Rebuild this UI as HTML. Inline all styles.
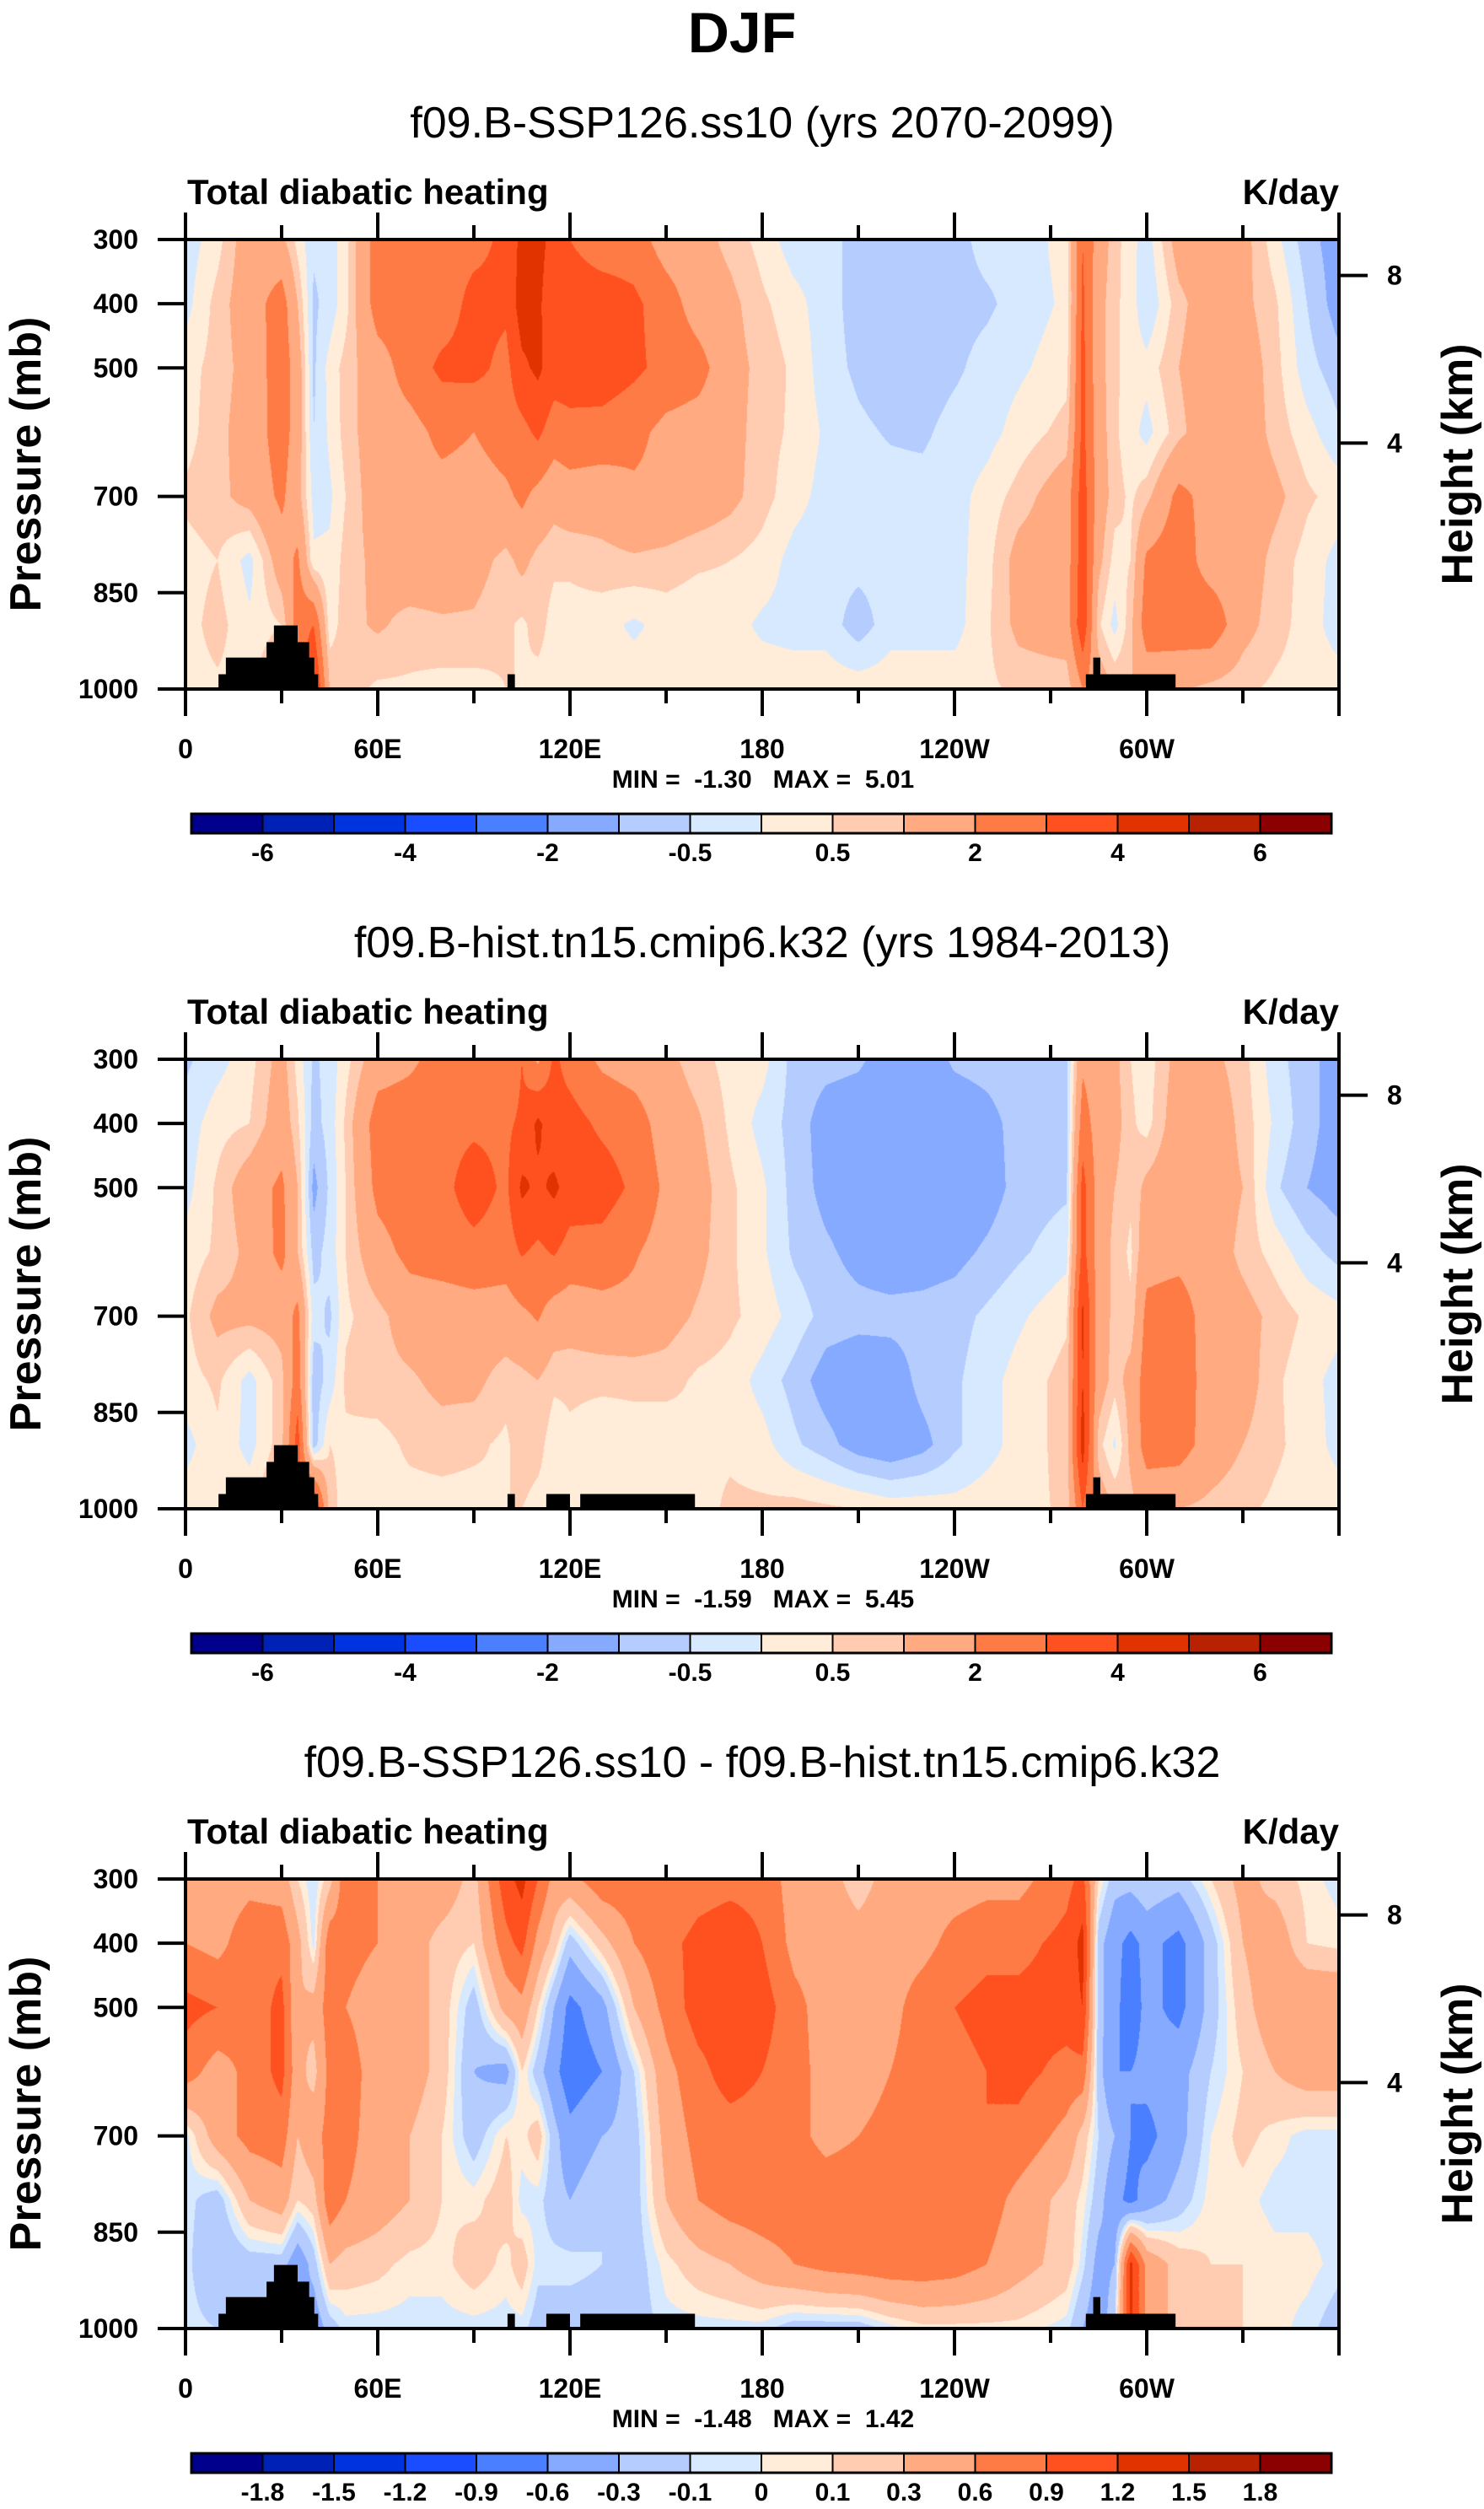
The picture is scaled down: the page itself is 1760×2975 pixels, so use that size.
<!DOCTYPE html>
<html><head><meta charset="utf-8">
<style>
html,body{margin:0;padding:0;background:#fff;}
body{width:1760px;height:2975px;position:relative;overflow:hidden;font-family:"Liberation Sans",Arial,sans-serif;}
canvas{position:absolute;}
#ov{position:absolute;left:0;top:0;}
.pre{white-space:pre;}
</style></head>
<body>
<canvas id="c0" width="1368" height="533" style="left:220px;top:284px"></canvas>
<canvas id="c1" width="1368" height="533" style="left:220px;top:1256px"></canvas>
<canvas id="c2" width="1368" height="533" style="left:220px;top:2228px"></canvas>
<svg id="ov" width="1760" height="2975" xmlns="http://www.w3.org/2000/svg">
<text x="880" y="62" text-anchor="middle" font-size="68" font-weight="bold" font-family="Liberation Sans, sans-serif">DJF</text>
</svg>
<script>
// ---- data ----
const LONS=[0,10,20,30,35,40,45,50,60,70,80,90,100,105,110,115,120,130,140,150,160,170,180,190,200,210,220,230,240,250,260,275,280,285,290,295,300,310,320,330,340,350,360];
const PLEV=[300,400,500,600,700,800,900,1000];
const field1=[
[-0.3,0.3,1.5,1.2,0.3,-0.4,-0.3,0.3,2.5,2.5,2.6,2.7,3.2,4.3,4.5,3.5,3.0,2.5,2.5,1.5,1.3,0.8,0.3,-0.3,-0.3,-0.7,-0.8,-0.8,-0.7,-0.3,-0.3,0.2,3.0,1.5,0.7,0.2,-0.3,1.4,1.5,1.3,0.2,-0.8,-1.3],
[-0.2,0.7,1.5,2.5,1.0,-0.6,-0.3,0.3,2.5,2.5,2.5,3.3,3.2,4.5,4.3,3.0,3.5,3.5,3.2,2.5,1.5,1.2,0.6,0.2,-0.3,-0.7,-0.8,-0.8,-0.7,-0.6,-0.3,0.1,3.2,1.3,0.6,0.3,-0.5,0.8,1.5,1.2,0.6,-0.5,-1.3],
[0.3,0.7,1.3,2.6,1.5,-0.6,0.2,0.7,1.5,2.5,3.2,3.3,2.7,3.8,4.2,3.5,3.5,3.6,3.2,2.7,2.4,1.3,0.8,0.4,-0.3,-0.6,-0.8,-0.8,-0.6,-0.3,-0.1,0.3,3.3,1.3,0.6,0.3,0.2,1.0,1.6,1.5,0.7,-0.3,-0.8],
[0.3,0.8,1.4,2.5,1.5,-0.5,0.1,0.7,1.5,1.6,2.3,2.0,2.5,2.7,3.2,2.5,2.7,2.6,2.3,1.7,1.5,1.3,0.7,0.4,-0.1,-0.4,-0.55,-0.6,-0.3,-0.2,0.2,0.7,3.3,1.4,0.6,0.2,-0.2,0.8,1.6,1.5,0.8,0.2,-0.4],
[0.6,0.8,1.3,2.2,1.3,-0.2,-0.1,0.5,1.5,1.5,1.6,1.5,1.8,2.2,1.7,1.3,1.5,1.4,1.8,1.7,1.5,1.2,0.7,0.2,-0.2,-0.3,-0.3,-0.3,-0.2,0.2,0.7,1.5,3.5,1.5,0.7,0.4,0.8,2.3,1.6,1.5,1.2,0.6,0.3],
[0.3,0.5,-0.2,1.5,2.2,0.1,0.1,0.7,1.2,1.5,1.5,1.3,0.8,1.2,0.8,0.6,0.6,0.8,0.9,0.8,0.6,0.5,0.3,-0.2,-0.3,-0.3,-0.3,-0.3,-0.2,0.3,1.3,1.5,3.6,1.2,0.3,0.5,2.2,2.6,1.5,1.5,0.8,0.3,-0.2],
[0.3,0.7,0.1,0.5,2.5,3.0,0.2,0.8,1.1,0.8,0.9,0.9,0.6,0.4,0.7,0.3,0.3,0.2,-0.1,0.2,0.1,0.2,-0.1,-0.2,-0.2,-0.8,-0.2,-0.2,-0.2,0.4,1.2,1.5,3.8,0.6,-0.2,0.8,2.6,2.6,2.7,1.3,0.7,0.3,-0.3],
[0.3,0.4,0.3,1.5,2.0,4.5,1.0,0.7,0.4,0.4,0.3,0.3,0.5,0.5,0.3,0.3,0.3,0.3,0.3,0.3,0.3,0.3,0.3,0.3,0.3,0.3,0.3,0.3,0.3,0.4,0.6,0.6,2.0,1.5,1.0,1.0,1.2,1.1,0.8,0.6,0.4,0.3,0.3]];
const field2=[
[-0.6,-0.2,0.3,1.3,0.3,-0.6,-0.3,0.3,1.5,1.8,2.4,2.5,2.0,3.0,1.8,3.2,2.6,1.8,1.5,1.2,0.7,0.3,0.2,-0.7,-0.8,-0.9,-1.3,-1.4,-0.9,-0.8,-0.7,-0.6,1.8,1.4,1.2,0.5,0.2,1.3,1.2,0.7,-0.3,-0.8,-1.3],
[-0.3,0.3,0.5,1.5,0.6,-0.7,-0.3,0.6,2.5,2.6,2.7,2.8,2.8,3.2,4.2,3.4,3.4,2.8,2.5,1.5,1.1,0.4,-0.2,-0.7,-1.3,-1.4,-1.5,-1.5,-1.4,-1.2,-0.8,-0.6,2.5,1.5,1.3,0.6,0.3,1.5,1.6,0.8,-0.1,-0.8,-1.3],
[-0.2,0.6,1.5,2.2,1.0,-1.2,-0.4,0.5,2.3,2.6,2.7,3.5,2.8,4.2,3.8,4.2,3.6,3.5,2.8,1.8,1.3,0.6,0.1,-0.7,-1.2,-1.4,-1.5,-1.5,-1.5,-1.3,-0.8,-0.6,3.4,1.5,1.0,0.6,1.2,1.6,1.5,1.0,-0.4,-1.0,-1.3],
[0.2,0.6,1.2,2.3,1.0,-0.7,-0.3,0.5,1.6,2.3,2.5,2.7,2.5,3.1,2.8,3.1,2.6,2.6,2.1,1.6,1.2,0.6,0.1,-0.6,-0.9,-1.2,-1.4,-1.3,-1.2,-0.9,-0.6,-0.2,3.4,1.5,0.8,0.4,1.6,1.7,1.5,0.8,0.3,-0.3,-0.7],
[0.4,1.2,1.2,1.3,2.3,-0.3,-0.6,0.4,0.8,1.4,1.4,1.5,1.5,1.8,2.1,1.5,1.4,1.6,1.7,1.3,0.9,0.6,0.3,-0.2,-0.7,-0.8,-0.8,-0.8,-0.7,-0.4,-0.1,0.4,4.2,1.5,0.8,0.6,2.3,2.5,1.5,1.3,0.8,0.4,0.2],
[0.3,0.6,-0.2,0.8,2.5,-0.8,-0.3,0.6,0.8,0.9,1.2,1.2,0.7,0.8,1.0,0.6,0.6,0.6,0.6,0.7,0.4,0.3,-0.2,-0.7,-1.3,-1.5,-1.4,-0.8,-0.6,-0.2,0.2,0.7,4.0,1.5,0.7,1.3,2.5,2.6,1.5,1.4,0.6,0.2,-0.2],
[-0.2,0.4,-0.2,0.8,3.5,-0.8,0.5,0.4,0.3,0.6,0.7,0.6,0.4,0.8,0.7,0.2,0.4,0.2,0.3,0.1,0.4,0.4,0.2,-0.4,-0.8,-1.3,-1.5,-1.2,-0.6,-0.2,0.2,0.7,4.5,0.7,-0.1,1.2,2.5,2.5,1.5,1.0,0.6,0.3,-0.2],
[0.3,0.4,0.4,1.3,2.5,4.5,0.7,0.3,0.3,0.3,0.3,0.3,0.5,0.5,0.3,0.3,0.3,0.3,0.3,0.3,0.3,0.6,0.6,0.7,0.6,0.5,0.3,0.3,0.2,0.3,0.3,0.6,3.0,1.5,1.0,0.8,1.2,1.0,0.8,0.6,0.4,0.3,0.3]];
const field3=[
[0.4,0.4,0.5,0.45,0.1,-0.1,0.2,0.8,0.6,0.5,0.5,0.2,1.1,1.3,0.9,0.5,0.5,0.8,0.8,0.6,0.75,0.8,0.8,0.45,0.4,0.2,0.4,0.45,0.45,0.5,0.5,0.8,1.0,0.1,-0.2,-0.2,-0.1,-0.2,0.1,0.4,0.2,0.05,-0.05],
[0.6,0.5,0.8,0.8,0.4,-0.05,0.8,0.7,0.6,0.45,0.2,0.1,0.8,1.0,0.5,0.2,-0.2,0.2,0.6,0.8,1.0,1.1,0.9,0.5,0.45,0.4,0.45,0.5,0.7,0.8,0.8,1.0,1.3,-0.2,-0.5,-0.7,-0.5,-0.7,-0.2,0.3,0.5,0.1,0.05],
[1.0,0.9,0.7,1.0,0.3,0.4,0.75,0.6,0.45,0.45,0.2,-0.2,0.4,0.5,0.1,-0.3,-0.7,-0.4,0.3,0.7,1.05,1.1,1.05,0.7,0.45,0.45,0.5,0.75,0.9,1.0,1.0,1.05,1.2,-0.2,-0.5,-0.8,-0.5,-0.7,-0.2,0.2,0.5,0.6,0.6],
[0.75,0.45,0.7,1.0,0.4,0.2,0.7,0.75,0.45,0.45,0.2,-0.3,-0.4,0.1,-0.2,-0.5,-0.8,-0.6,-0.1,0.5,0.8,1.05,0.9,0.7,0.5,0.45,0.6,0.75,0.8,0.9,1.0,0.8,0.8,-0.2,-0.6,-0.6,-0.5,-0.4,-0.1,0.1,0.3,0.45,0.45],
[-0.05,0.45,0.7,0.75,0.3,0.5,0.7,0.7,0.45,0.3,0.1,-0.2,0.1,0.05,0.2,-0.2,-0.5,-0.3,-0.2,0.4,0.7,0.75,0.75,0.7,0.5,0.6,0.7,0.75,0.8,0.9,0.8,0.5,0.2,-0.1,-0.3,-0.6,-0.7,-0.4,0.0,0.15,0.05,-0.05,-0.05],
[-0.05,-0.2,0.3,0.45,0.1,0.2,0.8,0.6,0.45,0.3,0.1,0.05,0.2,-0.05,-0.05,-0.2,-0.3,-0.1,-0.2,0.3,0.6,0.75,0.8,0.8,0.8,0.8,0.8,0.8,0.8,0.75,0.5,0.2,0.05,-0.2,-0.5,-0.7,-0.45,-0.2,0.05,0.05,-0.05,-0.05,-0.05],
[-0.05,-0.3,-0.2,-0.2,-0.5,-0.2,0.3,0.2,0.15,0.05,0.05,0.2,0.05,0.2,-0.05,-0.05,-0.05,-0.1,-0.2,0.05,0.2,0.3,0.45,0.6,0.7,0.75,0.8,0.8,0.75,0.6,0.4,0.2,-0.05,-0.4,-0.3,1.3,0.5,0.2,0.1,0.1,0.05,0.05,-0.05],
[-0.05,-0.1,-0.1,-0.1,-0.2,-0.5,-0.2,-0.05,-0.05,-0.05,-0.05,-0.05,-0.05,-0.05,-0.2,-0.2,-0.2,-0.2,-0.2,-0.05,-0.05,-0.05,-0.05,-0.2,-0.2,-0.2,-0.05,0.05,0.05,0.05,0.05,-0.05,-0.3,-0.5,-0.1,1.3,0.5,0.2,0.2,0.1,0.05,-0.05,-0.2]];
const levelsAbs=[-6,-5,-4,-3,-2,-1,-0.5,0,0.5,1,2,3,4,5,6];
const levelsDiff=[-1.8,-1.5,-1.2,-0.9,-0.6,-0.3,-0.1,0,0.1,0.3,0.6,0.9,1.2,1.5,1.8];
const labelsAbs=["","-6","","-4","","-2","","-0.5","","0.5","","2","","4","","6"];
const labelsDiff=["","-1.8","-1.5","-1.2","-0.9","-0.6","-0.3","-0.1","0","0.1","0.3","0.6","0.9","1.2","1.5","1.8"];
const COLORS=["#00008c","#0021b5","#0033e0","#1a4dff","#4a80ff","#85aaff","#b5ccff","#d7e9ff","#ffecd9","#ffccb2","#ffaa80","#ff7b45","#ff5120","#e03300","#b82200","#8b0000"];
const terrainBase=[[10.3,41.4,977],[12.6,40.2,951],[25.3,38.6,927],[27.6,35,901],[100.5,102.8,977],[281,309,977],[283.3,285.5,951]];
const terrainExtra=[[112.6,120,977],[123.2,159,977]];
const minVals=[-1.30,-1.59,-1.48];
const maxVals=[5.01,5.45,1.42];
const subtitles=["f09.B-SSP126.ss10 (yrs 2070-2099)","f09.B-hist.tn15.cmip6.k32 (yrs 1984-2013)","f09.B-SSP126.ss10 - f09.B-hist.tn15.cmip6.k32"];
const pressTicks=[300,400,500,700,850,1000];
const lonTicks=[0,60,120,180,240,300];
const lonLabels=["0","60E","120E","180","120W","60W"];
const kmTicks=[8,4];
const kmPress=[356,617];

// ---- geometry ----
const X0=220,W=1368,H=533,PT=[284,1256,2228];
const xOf=l=>X0+l/360*W;
const yOf=(p,top)=>top+(p-300)/700*H;
function rgb(h){return [parseInt(h.substr(1,2),16),parseInt(h.substr(3,2),16),parseInt(h.substr(5,2),16)];}
const RGB=COLORS.map(rgb);
function bin(v,lv){let k=0;while(k<lv.length&&v>=lv[k])k++;return k;}
function drawField(cid,field,lv){
  const c=document.getElementById(cid),ctx=c.getContext('2d');
  const img=ctx.createImageData(W,H);
  const ci=[],ct=[];
  for(let x=0;x<W;x++){const l=(x+0.5)/W*360;let i=0;while(i<LONS.length-2&&l>LONS[i+1])i++;ci.push(i);ct.push((l-LONS[i])/(LONS[i+1]-LONS[i]));}
  for(let y=0;y<H;y++){
    const p=300+(y+0.5)/H*700;let j=0;while(j<PLEV.length-2&&p>PLEV[j+1])j++;
    const u=(p-PLEV[j])/(PLEV[j+1]-PLEV[j]);
    const r0=field[j],r1=field[j+1];
    for(let x=0;x<W;x++){
      const i=ci[x],t=ct[x];
      const a=r0[i]*(1-t)+r0[i+1]*t,b=r1[i]*(1-t)+r1[i+1]*t;
      const v=a*(1-u)+b*u;const col=RGB[bin(v,lv)];
      const o=(y*W+x)*4;img.data[o]=col[0];img.data[o+1]=col[1];img.data[o+2]=col[2];img.data[o+3]=255;
    }
  }
  ctx.putImageData(img,0,0);
}
drawField('c0',field1,levelsAbs);
drawField('c1',field2,levelsAbs);
drawField('c2',field3,levelsDiff);

const svg=document.getElementById('ov');const NS='http://www.w3.org/2000/svg';
function mk(tag,attrs,txt){const e=document.createElementNS(NS,tag);for(const k in attrs)e.setAttribute(k,attrs[k]);if(txt!==undefined)e.textContent=txt;svg.appendChild(e);return e;}
const FF='Liberation Sans, Arial, sans-serif';
for(let k=0;k<3;k++){
  const top=PT[k],bot=top+H;
  let e=mk('text',{x:904,y:top-121,'text-anchor':'middle','font-size':52,'font-family':FF},subtitles[k]);
  
  
  e=mk('text',{x:222,y:top-42,'font-size':42,'font-weight':'bold','font-family':FF},'Total diabatic heating');
  
  
  e=mk('text',{x:1588,y:top-42,'text-anchor':'end','font-size':42,'font-weight':'bold','font-family':FF},'K/day');
  
  
  const terr=k===0?terrainBase:terrainBase.concat(terrainExtra);
  terr.forEach(r=>{
    e=mk('rect',{x:xOf(r[0]),y:yOf(r[2],top),width:xOf(r[1])-xOf(r[0]),height:bot-yOf(r[2],top),fill:'#000'});
    
    
  });
  e=mk('rect',{x:X0,y:top,width:W,height:H,fill:'none',stroke:'#000','stroke-width':4});
  
  
  for(let l=0;l<=360;l+=30){
    const len=(l%60===0)?32:17,x=xOf(l);
    e=mk('line',{x1:x,y1:top,x2:x,y2:top-len,stroke:'#000','stroke-width':4});
    
    
    e=mk('line',{x1:x,y1:bot,x2:x,y2:bot+len,stroke:'#000','stroke-width':4});
    
    
  }
  lonTicks.forEach((l,i)=>{
    e=mk('text',{x:xOf(l),y:bot+82,'text-anchor':'middle','font-size':32,'font-weight':'bold','font-family':FF},lonLabels[i]);
    
    
  });
  pressTicks.forEach(p=>{
    const y=yOf(p,top);
    e=mk('line',{x1:X0,y1:y,x2:X0-33,y2:y,stroke:'#000','stroke-width':4});
    
    
    e=mk('text',{x:164,y:y+11,'text-anchor':'end','font-size':32,'font-weight':'bold','font-family':FF},String(p));
    
    
  });
  kmTicks.forEach((z,i)=>{
    const y=yOf(kmPress[i],top);
    e=mk('line',{x1:X0+W,y1:y,x2:X0+W+34,y2:y,stroke:'#000','stroke-width':4});
    
    
    e=mk('text',{x:1645,y:y+11,'font-size':32,'font-weight':'bold','font-family':FF},String(z));
    
    
  });
  const cy=top+H/2;
  e=mk('text',{x:0,y:0,transform:`translate(48 ${cy}) rotate(-90)`,'text-anchor':'middle','font-size':52,'font-weight':'bold','font-family':FF},'Pressure (mb)');
  
  
  e=mk('text',{x:0,y:0,transform:`translate(1746 ${cy}) rotate(-90)`,'text-anchor':'middle','font-size':52,'font-weight':'bold','font-family':FF},'Height (km)');
  
  
  e=mk('text',{x:905,y:top+650,'text-anchor':'middle','font-size':30,'font-weight':'bold','font-family':FF,'class':'pre'},'MIN =  '+minVals[k].toFixed(2)+'   MAX =  '+maxVals[k].toFixed(2));
  
  
  // colorbar
  const cbx=227,cbw=1352,cby=top+681,cbh=23,bw=cbw/16;
  const labs=k===2?labelsDiff:labelsAbs;
  for(let i=0;i<16;i++){
    e=mk('rect',{x:cbx+i*bw,y:cby,width:bw,height:cbh,fill:COLORS[i],stroke:'#000','stroke-width':2});
    
    
    if(labs[i]){
      e=mk('text',{x:cbx+i*bw,y:cby+56,'text-anchor':'middle','font-size':30,'font-weight':'bold','font-family':FF},labs[i]);
      
      
    }
  }
  e=mk('rect',{x:cbx,y:cby,width:cbw,height:cbh,fill:'none',stroke:'#000','stroke-width':3});
  
  
}
</script>
</body></html>
